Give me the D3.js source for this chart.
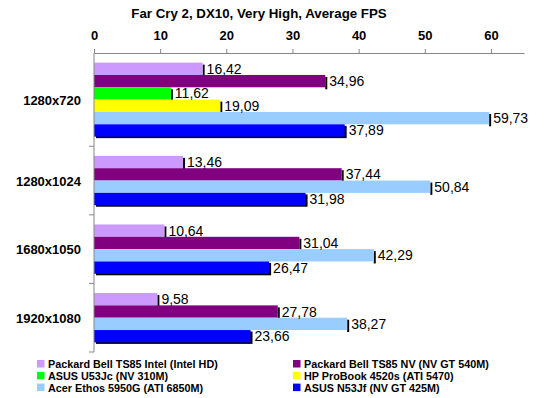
<!DOCTYPE html>
<html><head><meta charset="utf-8">
<script src="https://cdn.jsdelivr.net/npm/d3@7"></script>
<style>
body{margin:0;background:#fff;}
text{font-family:"Liberation Sans Narrow","Arial Narrow","Liberation Sans",sans-serif;}
</style></head>
<body><svg id="c" width="551" height="398"></svg>
<script>
const title = "Far Cry 2, DX10, Very High, Average FPS";
const categories = ["1280x720","1280x1024","1680x1050","1920x1080"];
const seriesNames = ["Packard Bell TS85 Intel (Intel HD)","Packard Bell TS85 NV (NV GT 540M)","ASUS U53Jc (NV 310M)","HP ProBook 4520s (ATI 5470)","Acer Ethos 5950G (ATI 6850M)","ASUS N53Jf (NV GT 425M)"];
const seriesColors = ["#CC99FF","#800080","#00FF00","#FFFF00","#99CCFF","#0000FF"];
const pbIntel  = [16.42, 13.46, 10.64, 9.58];
const pbNV     = [34.96, 37.44, 31.04, 27.78];
const asusU53  = [11.62, null, null, null];
const hp4520   = [19.09, null, null, null];
const acer5950 = [59.73, 50.84, 42.29, 38.27];
const asusN53  = [37.89, 31.98, 26.47, 23.66];
const series = [pbIntel, pbNV, asusU53, hp4520, acer5950, asusN53];
const xTicks = [0,10,20,30,40,50,60];

const FONT = '"Liberation Sans Narrow","Arial Narrow","Liberation Sans",sans-serif';
const svg = d3.select("#c");
const x = d3.scaleLinear().domain([0,65]).range([94,524]);
const gapSlots = 1.56;
let offset = 0;
const groups = categories.map((c,i)=>{
  const bars = series.map((s,j)=>({s:j, v:s[i]})).filter(d=>d.v!=null);
  const g = {cat:c, start:offset, bars};
  bars.forEach((b,k)=>{ b.slot = offset + gapSlots/2 + k; });
  offset += bars.length + gapSlots;
  g.end = offset;
  return g;
});
const y = d3.scaleLinear().domain([0, offset]).range([53,352]);
const bh = y(1)-y(0);

svg.append("text").attr("x",259).attr("y",17.5).attr("text-anchor","middle")
  .attr("font-weight","bold").attr("font-size",13.3).attr("fill","#000").text(title);

// bars
groups.forEach(g=>{
  const last = g.bars.length-1;
  g.bars.forEach((b,k)=>{
    if(k===last){
      svg.append("rect").attr("x",x(0)+2).attr("y",y(b.slot)+1.5)
        .attr("width",x(b.v)-x(0)).attr("height",bh).attr("fill","#000");
    } else {
      svg.append("rect").attr("x",x(b.v)).attr("y",y(b.slot)+2)
        .attr("width",2).attr("height",bh).attr("fill","#000");
    }
    svg.append("rect").attr("x",x(0)).attr("y",y(b.slot))
      .attr("width",x(b.v)-x(0)).attr("height",bh).attr("fill",seriesColors[b.s]);
  });
});
groups.forEach(g=>{
  g.bars.forEach(b=>{
    svg.append("text").attr("x",x(b.v)+4).attr("y",y(b.slot+0.5)+5)
      .attr("font-size",14).attr("fill","#000")
      .text(d3.format(".2f")(b.v).replace(".",","));
  });
});

// top axis
const ax = svg.append("g").attr("transform","translate(0,53)")
  .call(d3.axisTop(x).tickValues(xTicks).tickSize(4).tickSizeOuter(0).tickPadding(9).tickFormat(d3.format("d")));
ax.select(".domain").attr("stroke","#868686");
ax.selectAll(".tick line").attr("stroke","#868686");
ax.selectAll(".tick text").attr("font-weight","bold").attr("font-size",13).attr("fill","#000")
  .style("font-family",FONT);

// left axis
svg.append("line").attr("x1",x(0)).attr("x2",x(0)).attr("y1",y(0)).attr("y2",y(offset)).attr("stroke","#868686");
groups.forEach(g=>{
  svg.append("line").attr("x1",x(0)-5).attr("x2",x(0)).attr("y1",y(g.end)).attr("y2",y(g.end)).attr("stroke","#868686");
  svg.append("text").attr("x",81).attr("y",y((g.start+g.end)/2)+5).attr("text-anchor","end")
    .attr("font-weight","bold").attr("font-size",13).attr("fill","#000").text(g.cat);
});

// legend
const lg = svg.append("g");
seriesNames.forEach((n,i)=>{
  const col = i%2, row = Math.floor(i/2);
  const lx = col===0 ? 37 : 293, ly = 364 + row*11.8;
  lg.append("rect").attr("x",lx).attr("y",ly-4).attr("width",7.5).attr("height",7.5).attr("fill",seriesColors[i]);
  lg.append("text").attr("x",lx+11).attr("y",ly+4).attr("font-weight","bold").attr("font-size",10.8).attr("fill","#000").text(n);
});
</script></body></html>
